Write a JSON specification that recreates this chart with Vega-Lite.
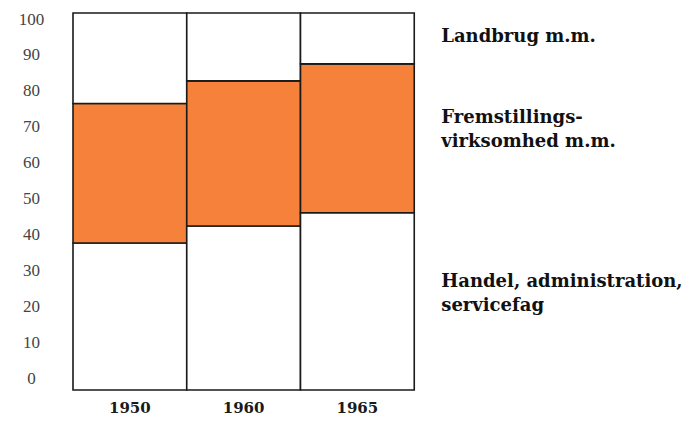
{
  "$schema": "https://vega.github.io/schema/vega-lite/v6.json",
  "autosize": "none",
  "width": 455,
  "height": 377,
  "padding": {"left": 73, "top": 13, "right": 171, "bottom": 32},
  "background": "white",
  "config": {"view": {"stroke": null}},
  "resolve": {"scale": {"y": "independent"}, "axis": {"y": "independent"}},
  "layer": [
    {
      "data": {"values": [
        {"year": "1950", "sector": "Handel", "k": 1, "pct": 39},
        {"year": "1950", "sector": "Fremstilling", "k": 2, "pct": 37},
        {"year": "1950", "sector": "Landbrug", "k": 3, "pct": 24},
        {"year": "1960", "sector": "Handel", "k": 1, "pct": 43.5},
        {"year": "1960", "sector": "Fremstilling", "k": 2, "pct": 38.5},
        {"year": "1960", "sector": "Landbrug", "k": 3, "pct": 18},
        {"year": "1965", "sector": "Handel", "k": 1, "pct": 47},
        {"year": "1965", "sector": "Fremstilling", "k": 2, "pct": 39.5},
        {"year": "1965", "sector": "Landbrug", "k": 3, "pct": 13.5}
      ]},
      "mark": {"type": "bar", "stroke": "#1a1a1a", "strokeWidth": 1.6},
      "encoding": {
        "x": {
          "field": "year", "type": "nominal",
          "scale": {"domain": ["1950", "1960", "1965", "lbl"], "paddingInner": 0, "paddingOuter": 0},
          "axis": {
            "values": ["1950", "1960", "1965"], "title": null, "labelAngle": 0,
            "ticks": false, "domain": false, "labelPadding": 10,
            "labelFont": "DejaVu Serif", "labelFontSize": 15, "labelFontWeight": "bold", "labelColor": "#1a1a1a"
          }
        },
        "y": {
          "field": "pct", "type": "quantitative", "stack": "zero",
          "scale": {"domain": [0, 100], "nice": false},
          "axis": null
        },
        "color": {
          "field": "sector", "type": "nominal",
          "scale": {"domain": ["Handel", "Fremstilling", "Landbrug"], "range": ["#ffffff", "#f5813a", "#ffffff"]},
          "legend": null
        },
        "order": {"field": "k", "type": "quantitative"}
      }
    },
    {
      "data": {"values": [
        {"col": "lbl", "pos": 95, "label": ["Landbrug m.m."]},
        {"col": "lbl", "pos": 72.4, "label": ["Fremstillings-", "virksomhed m.m."]},
        {"col": "lbl", "pos": 26.7, "label": ["Handel, administration,", "servicefag"]}
      ]},
      "mark": {
        "type": "text", "align": "left", "baseline": "middle", "dx": 27,
        "font": "DejaVu Serif", "fontSize": 18, "fontWeight": "bold", "lineHeight": 24, "color": "#111111"
      },
      "encoding": {
        "x": {"field": "col", "type": "nominal", "bandPosition": 0},
        "y": {
          "field": "pos", "type": "quantitative",
          "scale": {"domain": [-3.34, 101.7], "nice": false, "zero": false},
          "axis": {
            "values": [0, 10, 20, 30, 40, 50, 60, 70, 80, 90, 100], "title": null, "orient": "left",
            "grid": false, "ticks": false, "domain": false, "labelOverlap": false, "labelFlush": false,
            "labelAlign": "center", "labelPadding": 42,
            "labelFont": "Liberation Serif", "labelFontSize": 17, "labelColor": "#444444"
          }
        },
        "text": {"field": "label"}
      }
    }
  ]
}
